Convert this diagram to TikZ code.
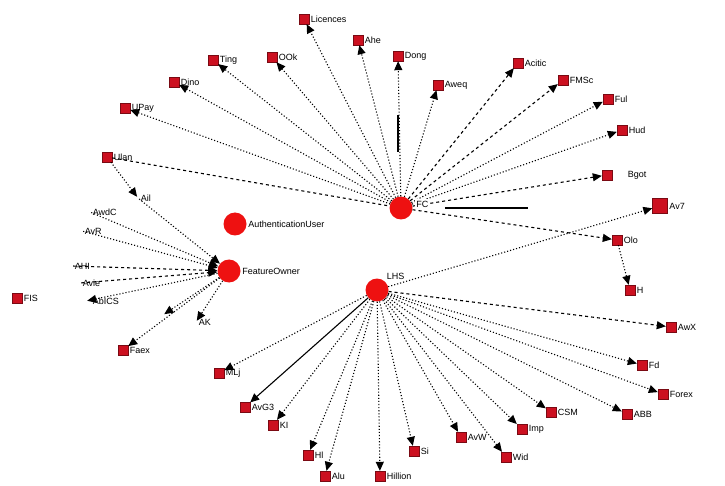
\documentclass[tikz,border=0pt]{standalone}
\usepackage{fontspec}
\setmainfont{Liberation Sans}
\usetikzlibrary{arrows.meta}
\definecolor{leafred}{HTML}{CC1020}
\definecolor{hubred}{HTML}{EE1111}
\tikzset{
  leaf/.style={rectangle,draw=leafred!60!black,fill=leafred,minimum size=10pt,inner sep=0pt,line width=0.4pt},
  bigleaf/.style={leaf,minimum size=15pt},
  hub/.style={circle,fill=hubred,minimum size=23pt,inner sep=0pt},
  lbl/.style={font=\fontsize{9}{10}\selectfont,inner sep=1.5pt},
  edg/.style={line width=1.1pt,-{Triangle[length=9pt,width=8pt]}},
  dt/.style={edg,dotted},
  ds/.style={edg,dashed},
  sl/.style={edg}
}
\begin{document}
\begin{tikzpicture}[x=1pt,y=-1pt]
\useasboundingbox[fill=white] (0,0) rectangle (725,486);
% hubs
\node[hub] (fc) at (401,208) {};
\node[hub,label={[lbl]above right:LHS}] (lhs) at (377,290) {};
\node[hub,label={[lbl]right:FeatureOwner}] (fo) at (229,271) {};
\node[hub,label={[lbl]right:AuthenticationUser}] (au) at (235,224) {};
% top leaves
\node[leaf,label={[lbl]right:Licences}] (lic) at (304,19) {};
\node[leaf,label={[lbl]right:Ahe}] (ahe) at (358,40) {};
\node[leaf,label={[lbl]right:Dong}] (dong) at (398,56) {};
\node[leaf,label={[lbl]right:OOk}] (ook) at (272,57) {};
\node[leaf,label={[lbl]right:Ting}] (ting) at (213,60) {};
\node[leaf,label={[lbl]right:Dino}] (dino) at (174,82) {};
\node[leaf,label={[lbl]right:UPay}] (upay) at (125,108) {};
\node[leaf,label={[lbl]right:Ulan}] (ulan) at (107,157) {};
\node[leaf,label={[lbl]right:Acitic}] (acit) at (518,63) {};
\node[leaf,label={[lbl]right:Aweq}] (aweq) at (438,85) {};
\node[leaf,label={[lbl]right:FMSc}] (fmsc) at (563,80) {};
\node[leaf,label={[lbl]right:Ful}] (ful) at (608,99) {};
\node[leaf,label={[lbl]right:Hud}] (hud) at (622,130) {};
\node[leaf,label={[lbl,xshift=14pt]right:Bgot}] (bgot) at (607,175) {};
\node[bigleaf,label={[lbl]right:Av7}] (av7) at (660,206) {};
\node[leaf,label={[lbl]right:Olo}] (olo) at (617,240) {};
\node[leaf,label={[lbl]right:H}] (h) at (630,290) {};
% left leaves
\node[leaf,label={[lbl]right:FIS}] (fis) at (17,298) {};
\node[leaf,label={[lbl]right:Faex}] (faex) at (123,350) {};
\node[inner sep=0pt,minimum size=2pt,label={[lbl]right:Ail}] (ail) at (138,198) {};
\node[inner sep=0pt,minimum size=2pt,label={[lbl]right:AwdC}] (awdc) at (90,212) {};
\node[inner sep=0pt,minimum size=2pt,label={[lbl]right:AvR}] (avr) at (82,231) {};
\node[inner sep=0pt,minimum size=2pt,label={[lbl]right:AHI}] (ahi) at (72,266) {};
\node[inner sep=0pt,minimum size=2pt,label={[lbl]right:Avie}] (avie) at (80,283) {};
\node[inner sep=0pt,minimum size=2pt,label={[lbl,xshift=4pt]right:AbICS}] (abics) at (86,301) {};
\node[inner sep=0pt,minimum size=2pt,label={[lbl]right:AK}] (ak) at (196,322) {};
\node[inner sep=0pt,minimum size=2pt] (al2) at (163,315) {};
% bottom leaves
\node[leaf,label={[lbl]right:MLj}] (mlj) at (219,373) {};
\node[leaf,label={[lbl]right:AvG3}] (avg3) at (245,407) {};
\node[leaf,label={[lbl]right:KI}] (ki) at (273,425) {};
\node[leaf,label={[lbl]right:Hl}] (hl) at (308,455) {};
\node[leaf,label={[lbl]right:Alu}] (alu) at (325,476) {};
\node[leaf,label={[lbl]right:Hillion}] (hil) at (380,476) {};
\node[leaf,label={[lbl]right:Si}] (si) at (414,451) {};
\node[leaf,label={[lbl]right:AvW}] (avw) at (461,437) {};
\node[leaf,label={[lbl]right:Wid}] (wid) at (506,457) {};
\node[leaf,label={[lbl]right:Imp}] (imp) at (522,429) {};
\node[leaf,label={[lbl]right:CSM}] (csm) at (551,412) {};
\node[leaf,label={[lbl]right:ABB}] (abb) at (627,414) {};
\node[leaf,label={[lbl]right:Forex}] (forex) at (663,394) {};
\node[leaf,label={[lbl]right:Fd}] (fd) at (642,365) {};
\node[leaf,label={[lbl]right:AwX}] (awx) at (671,327) {};
% extra solid segments
\coordinate (s0) at (445,208);
\coordinate (s1) at (528,208);
\coordinate (s2a) at (398,115);
\coordinate (s2b) at (398,152);
% edges from FC
\draw[dt] (fc) -- (lic);
\draw[dt] (fc) -- (ahe);
\draw[dt] (fc) -- (dong);
\draw[dt] (fc) -- (ook);
\draw[dt] (fc) -- (ting);
\draw[dt] (fc) -- (dino);
\draw[dt] (fc) -- (upay);
\draw[dt] (fc) -- (aweq);
\draw[ds] (fc) -- (acit);
\draw[ds] (fc) -- (fmsc);
\draw[dt] (fc) -- (ful);
\draw[dt] (fc) -- (hud);
\draw[ds] (fc) -- (bgot);
\draw[ds] (fc) -- (olo);
\draw[line width=1.1pt,dashed] (ulan) -- (fc);
\draw[line width=1.1pt] (s0) -- (s1);
\draw[line width=1.1pt] (s2a) -- (s2b);
\draw[dt] (olo) -- (h);
% edges from LHS
\draw[dt] (lhs) -- (av7);
\draw[ds] (lhs) -- (awx);
\draw[dt] (lhs) -- (fd);
\draw[dt] (lhs) -- (forex);
\draw[dt] (lhs) -- (abb);
\draw[dt] (lhs) -- (csm);
\draw[dt] (lhs) -- (imp);
\draw[dt] (lhs) -- (wid);
\draw[dt] (lhs) -- (avw);
\draw[dt] (lhs) -- (si);
\draw[dt] (lhs) -- (hil);
\draw[dt] (lhs) -- (alu);
\draw[dt] (lhs) -- (hl);
\draw[dt] (lhs) -- (ki);
\draw[sl] (lhs) -- (avg3);
\draw[dt] (lhs) -- (mlj);
% edges to FeatureOwner
\draw[dt] (ulan) -- (ail);
\draw[dt] (ail) -- (fo);
\draw[dt] (awdc) -- (fo);
\draw[dt] (avr) -- (fo);
\draw[ds] (ahi) -- (fo);
\draw[ds] (avie) -- (fo);
\draw[dt] (fo) -- (abics);
\draw[dt] (fo) -- (ak);
\draw[dt] (fo) -- (al2);
\draw[dt] (fo) -- (faex);
% FC label on top
\node[lbl,fill=white,anchor=west] (fclbl) at ([xshift=2pt,yshift=4pt]fc.east) {FC};
\end{tikzpicture}
\end{document}
